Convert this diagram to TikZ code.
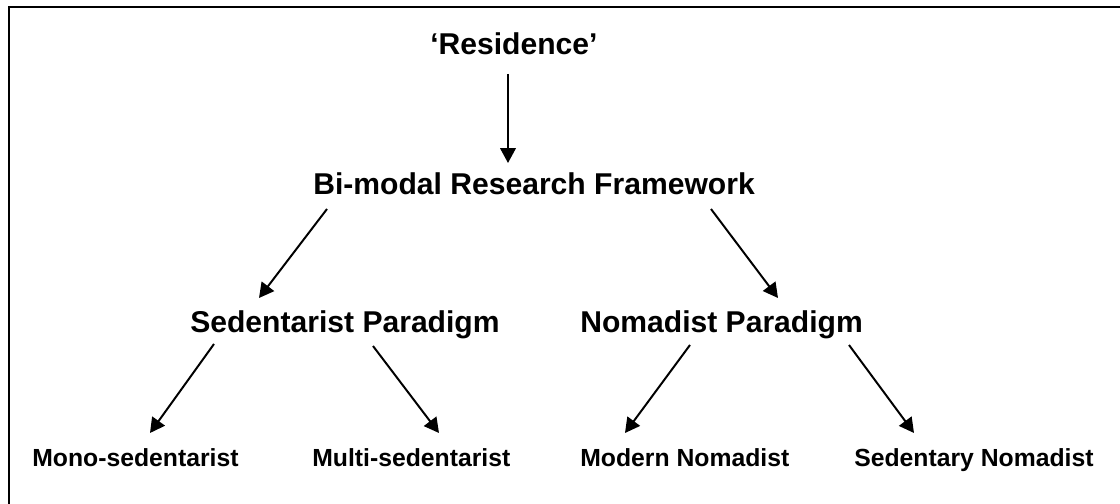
\documentclass[tikz,border=0pt]{standalone}
\usepackage{fontspec}
\setmainfont{Liberation Sans}
\usetikzlibrary{arrows.meta}

\tikzset{
  big/.style={anchor=base west, inner sep=0pt, font=\fontsize{21.4}{25}\selectfont\bfseries},
  small/.style={anchor=base west, inner sep=0pt, font=\fontsize{17.6}{20}\selectfont\bfseries},
  arr/.style={line width=1.4pt, -{Triangle[length=10.5pt,width=11pt]}}
}

\begin{document}
\begin{tikzpicture}[x=0.025cm, y=-0.025cm]
  \useasboundingbox (0,0) rectangle (1120,504);
  \clip (0,0) rectangle (1120,504);
  \draw[line width=1.4pt] (9,7) rectangle (1140,530);

  % top of the tree
  \node[big] (res) at (430,55) {‘Residence’};
  \node[big] (bim) at (313,195) {Bi-modal Research Framework};

  % the two paradigms
  \node[big] (sed) at (190,333) {Sedentarist Paradigm};
  \node[big] (nom) at (580,333) {Nomadist Paradigm};

  % leaves
  \node[small] (mono) at (32,466) {Mono-sedentarist};
  \node[small] (multi) at (312,466) {Multi-sedentarist};
  \node[small] (modern) at (580,466) {Modern Nomadist};
  \node[small] (sedno) at (854,466) {Sedentary Nomadist};

  \draw[arr] ([shift={(78,19)}]res.base west) -- ([shift={(195,-32)}]bim.base west);
  \draw[arr] ([shift={(14,14)}]bim.base west) -- ([shift={(69,-35)}]sed.base west);
  \draw[arr] ([shift={(398,14)}]bim.base west) -- ([shift={(198,-35)}]nom.base west);

  \draw[arr] ([shift={(24,11)}]sed.base west) -- ([shift={(118,-33)}]mono.base west);
  \draw[arr] ([shift={(183,13)}]sed.base west) -- ([shift={(127,-33)}]multi.base west);
  \draw[arr] ([shift={(110,12)}]nom.base west) -- ([shift={(45,-33)}]modern.base west);
  \draw[arr] ([shift={(269,12)}]nom.base west) -- ([shift={(60,-33)}]sedno.base west);
\end{tikzpicture}
\end{document}
